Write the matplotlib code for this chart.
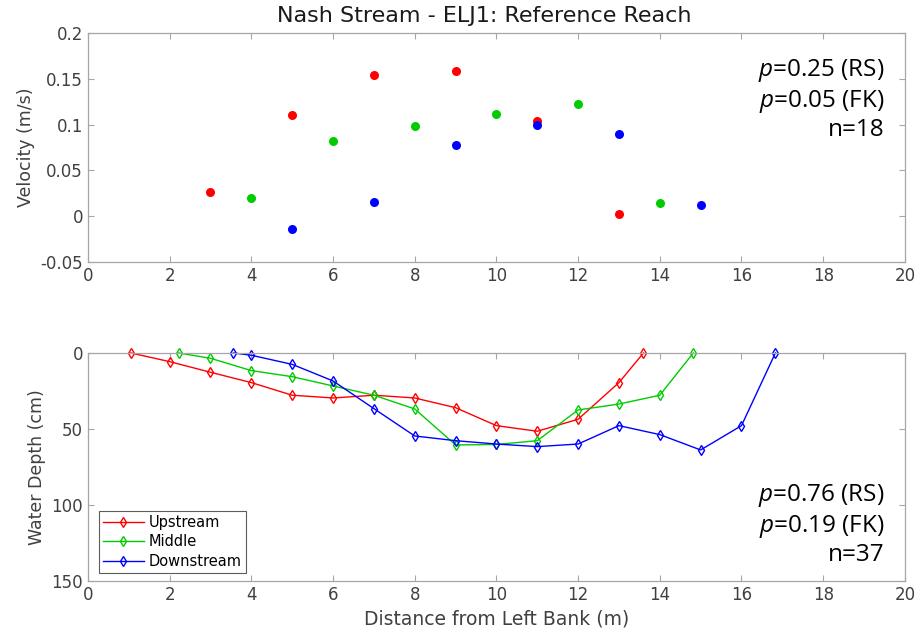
import matplotlib.pyplot as plt

# top panel: velocity at stations
up_vx = [3, 5, 7, 9, 11, 13]
up_v = [0.026, 0.110, 0.154, 0.158, 0.104, 0.002]
mid_vx = [4, 6, 8, 10, 12, 14]
mid_v = [0.020, 0.082, 0.098, 0.112, 0.122, 0.014]
dn_vx = [5, 7, 9, 11, 13, 15]
dn_v = [-0.014, 0.016, 0.078, 0.100, 0.090, 0.012]

# bottom panel: depth profiles
up_x = [1.05, 2, 3, 4, 5, 6, 7, 8, 9, 10, 11, 12, 13, 13.6]
up_d = [0, 5.7, 12.7, 19.5, 27.8, 29.6, 27.8, 29.6, 36, 47.8, 51.5, 43.6, 19.5, 0]
mid_x = [2.22, 3, 4, 5, 6, 7, 8, 9, 10, 11, 12, 13, 14, 14.82]
mid_d = [0, 3.5, 11.6, 15.6, 21.7, 27.8, 36.8, 60.5, 60.2, 57.7, 37.5, 33.6, 27.8, 0]
dn_x = [3.56, 4, 5, 6, 7, 8, 9, 10, 11, 12, 13, 14, 15, 16, 16.83]
dn_d = [0, 1.5, 7.5, 18.4, 36.6, 54.6, 57.7, 59.9, 61.6, 59.9, 47.8, 53.7, 63.8, 47.8, 0]

RED, GREEN, BLUE = "#ff0000", "#00cc00", "#0000ff"
TXT = "#404040"
plt.rcParams["font.family"] = "DejaVu Sans"
plt.rcParams["mathtext.fontset"] = "custom"
plt.rcParams["mathtext.it"] = "Open Sans:italic"
plt.rcParams["mathtext.rm"] = "Open Sans"

fig = plt.figure(figsize=(9.21, 6.37), dpi=100)
ax1 = fig.add_axes([0.0955, 0.5887, 0.887, 0.3595])
ax2 = fig.add_axes([0.0955, 0.0879, 0.887, 0.358])


def style(ax):
    for s in ax.spines.values():
        s.set_color("#a6a6a6")
        s.set_linewidth(0.9)
    ax.tick_params(direction="in", top=True, right=True, length=4,
                   color="#a6a6a6", labelcolor=TXT, labelsize=12)
    ax.set_xlim(0, 20)
    ax.set_xticks(range(0, 21, 2))


ax1.plot(up_vx, up_v, "o", color=RED, ms=6.5, mec="none")
ax1.plot(mid_vx, mid_v, "o", color=GREEN, ms=6.5, mec="none")
ax1.plot(dn_vx, dn_v, "o", color=BLUE, ms=6.5, mec="none")
ax1.set_ylim(-0.05, 0.2)
ax1.set_yticks([-0.05, 0, 0.05, 0.1, 0.15, 0.2])
ax1.set_yticklabels(["-0.05", "0", "0.05", "0.1", "0.15", "0.2"])
style(ax1)
ax1.set_ylabel("Velocity (m/s)", fontsize=12.5, color=TXT)
ax1.set_title("Nash Stream - ELJ1: Reference Reach", fontsize=16,
              color="#1a1a1a", pad=8, x=0.485)
ax1.text(0.975, 0.895, "$p$=0.25 (RS)\n$p$=0.05 (FK)\nn=18",
         transform=ax1.transAxes, ha="right", va="top", fontsize=17.5,
         family="Open Sans", linespacing=1.2)

mk = dict(marker="d", mfc="none", ms=5, lw=1.0, mew=1.0, clip_on=False)
ax2.plot(up_x, up_d, color=RED, label="Upstream", **mk)
ax2.plot(mid_x, mid_d, color=GREEN, label="Middle", **mk)
ax2.plot(dn_x, dn_d, color=BLUE, label="Downstream", **mk)
ax2.set_ylim(150, 0)
ax2.set_yticks([0, 50, 100, 150])
style(ax2)
ax2.set_ylabel("Water Depth (cm)", fontsize=12.5, color=TXT)
ax2.set_xlabel("Distance from Left Bank (m)", fontsize=13.5, color=TXT)
ax2.text(0.975, 0.435, "$p$=0.76 (RS)\n$p$=0.19 (FK)\nn=37",
         transform=ax2.transAxes, ha="right", va="top", fontsize=17.5,
         family="Open Sans", linespacing=1.2)
leg = ax2.legend(loc="lower left", fontsize=10.5, frameon=True, fancybox=False,
                 bbox_to_anchor=(0.013, 0.035), borderaxespad=0,
                 handlelength=2.8, handletextpad=0.35, labelspacing=0.3,
                 edgecolor="#333333", borderpad=0.3)
leg.get_frame().set_linewidth(0.8)

fig.savefig("out.png", dpi=100)
